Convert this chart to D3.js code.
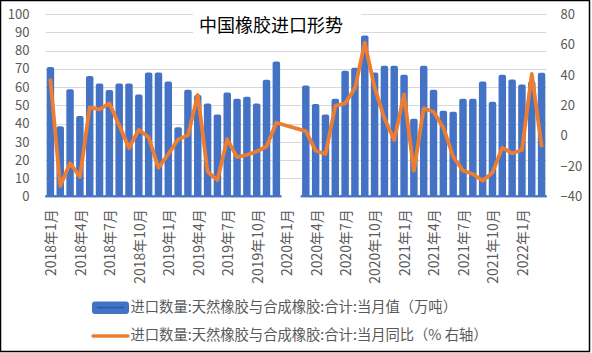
<!DOCTYPE html>
<html><head><meta charset="utf-8">
<script src="https://cdn.jsdelivr.net/npm/d3@7"></script>
<style>
html,body{margin:0;padding:0;background:#fff;}
svg{display:block;}
text{font-family:"Noto Sans CJK SC","Noto Sans",sans-serif;}
</style></head><body>
<script>
const months = [];
for (let y = 2018; y <= 2022; y++) for (let m = 1; m <= 12; m++) { if (y === 2022 && m > 3) break; months.push(y + "年" + m + "月"); }

const volume = [71,38.5,58.8,44.2,66,62,58.4,62,62,56,68,68,
                63,38,58.6,55.7,51,45,57,53.6,54.7,51,64,74,
                null,null,60.8,50.7,45,53.6,69,70.6,88.2,68,71.7,71.7,
                66.8,42.7,71.7,58.6,47.1,46.5,53.6,53.6,63.1,52,66.7,64.2,
                61.4,63,67.9];
const yoy = [36.6,-33,-18,-27,18.7,17.4,21.3,7,-8,4,-1,-21,
             -12,-2.4,0.3,26.8,-23.6,-29,-2.3,-14,-12.5,-10.3,-7,8.6,
             null,null,3.1,-9.8,-12,19.6,21.3,31.2,61.2,31.8,11.5,-2.8,
             27.2,-22.9,18,15.8,5.3,-13.7,-22.9,-25.1,-29.5,-24.2,-7.8,-11.5,
             -9.3,40.6,-6.5];
const leftTicks = [0,10,20,30,40,50,60,70,80,90,100];
const rightTicks = [-40,-20,0,20,40,60,80];
const title = "中国橡胶进口形势";
const legendLabels = ["进口数量:天然橡胶与合成橡胶:合计:当月值（万吨）","进口数量:天然橡胶与合成橡胶:合计:当月同比（% 右轴）"];

const W = 592, H = 353;
const svg = d3.select("body").append("svg").attr("width", W).attr("height", H);
svg.append("rect").attr("x",0.5).attr("y",0.5).attr("width",W-3).attr("height",H-2)
  .attr("fill","#fff").attr("stroke","#000").attr("stroke-width",1.5);

const plot = {left: 45.5, right: 546.5, top: 14, bottom: 196.7};
const x = d3.scaleBand().domain(months).range([plot.left, plot.right]).paddingInner(0.24).paddingOuter(0.12);
const yL = d3.scaleLinear().domain([0,100]).range([plot.bottom, plot.top]);
const yR = d3.scaleLinear().domain([-40,80]).range([plot.bottom, plot.top]);

// gridlines
svg.append("g").selectAll("line").data(leftTicks.slice(1)).join("line")
  .attr("x1", plot.left).attr("x2", plot.right)
  .attr("y1", d => Math.round(yL(d))+0.5).attr("y2", d => Math.round(yL(d))+0.5)
  .attr("stroke","#d9d9d9").attr("stroke-width",1);

// title background + title
svg.append("rect").attr("x",193).attr("y",6).attr("width",168).attr("height",34).attr("fill","#fff");
svg.append("text").attr("x",271).attr("y",32).attr("text-anchor","middle")
  .attr("font-size",18).attr("fill","#000").text(title);

// bars
const barData = months.map((m,i) => ({m, v: volume[i]})).filter(d => d.v != null);
svg.append("g").selectAll("rect").data(barData).join("rect")
  .attr("x", d => x(d.m)).attr("width", x.bandwidth())
  .attr("y", d => yL(d.v)).attr("height", d => yL(0) - yL(d.v))
  .attr("rx", 2).attr("fill", "#4472C4");
// base strip
svg.append("g").selectAll("rect").data(barData).join("rect")
  .attr("x", d => x(d.m) - (x.step()-x.bandwidth())/2 - 0.3).attr("width", x.step()+0.6)
  .attr("y", yL(0) - 1.5).attr("height", 2.2).attr("fill", "#4472C4");

// line
const lineData = months.map((m,i) => ({m, v: yoy[i]})).filter(d => d.v != null);
svg.append("path").datum(lineData)
  .attr("d", d3.line().x(d => x(d.m) + x.bandwidth()/2).y(d => yR(d.v)))
  .attr("fill","none").attr("stroke","#ED7D31").attr("stroke-width",3.8)
  .attr("stroke-linejoin","round").attr("stroke-linecap","round");

// left axis
const axL = svg.append("g").attr("transform", `translate(${plot.left},0)`)
  .call(d3.axisLeft(yL).tickValues(leftTicks).tickSize(0).tickPadding(16));
axL.select(".domain").remove();
axL.selectAll("text").attr("font-size",13).attr("fill","#595959");

// right axis
const axR = svg.append("g").attr("transform", `translate(${plot.right},0)`)
  .call(d3.axisRight(yR).tickValues(rightTicks).tickSize(0).tickPadding(14));
axR.select(".domain").remove();
axR.selectAll("text").attr("font-size",13).attr("fill","#595959");

// x axis
const xTicks = months.filter((m,i) => i % 3 === 0);
const axX = svg.append("g").attr("transform", `translate(0,${plot.bottom})`)
  .call(d3.axisBottom(x).tickValues(xTicks).tickSize(0).tickPadding(0));
axX.select(".domain").remove();
axX.selectAll("text").attr("font-size",14).attr("fill","#595959")
  .attr("text-anchor","end").attr("transform","translate(1,12.5) rotate(-90)")
  .attr("dy","0.35em").attr("dx","0");

// legend
const lg = svg.append("g");
lg.append("rect").attr("x",92).attr("y",301.5).attr("width",37).attr("height",12.5).attr("rx",3).attr("fill","#4472C4");
lg.append("line").attr("x1",97).attr("x2",124).attr("y1",307.5).attr("y2",307.5).attr("stroke","#1f5cb8").attr("stroke-width",1.5);
lg.append("text").attr("x",130.5).attr("y",307).attr("dy","0.35em").attr("font-size",14.3).attr("fill","#595959").text(legendLabels[0]);
lg.append("line").attr("x1",93).attr("x2",128).attr("y1",336).attr("y2",336).attr("stroke","#ED7D31").attr("stroke-width",3.5).attr("stroke-linecap","round");
lg.append("text").attr("x",130.5).attr("y",335).attr("dy","0.35em").attr("font-size",14.3).attr("fill","#595959").text(legendLabels[1]);
</script>
</body></html>
